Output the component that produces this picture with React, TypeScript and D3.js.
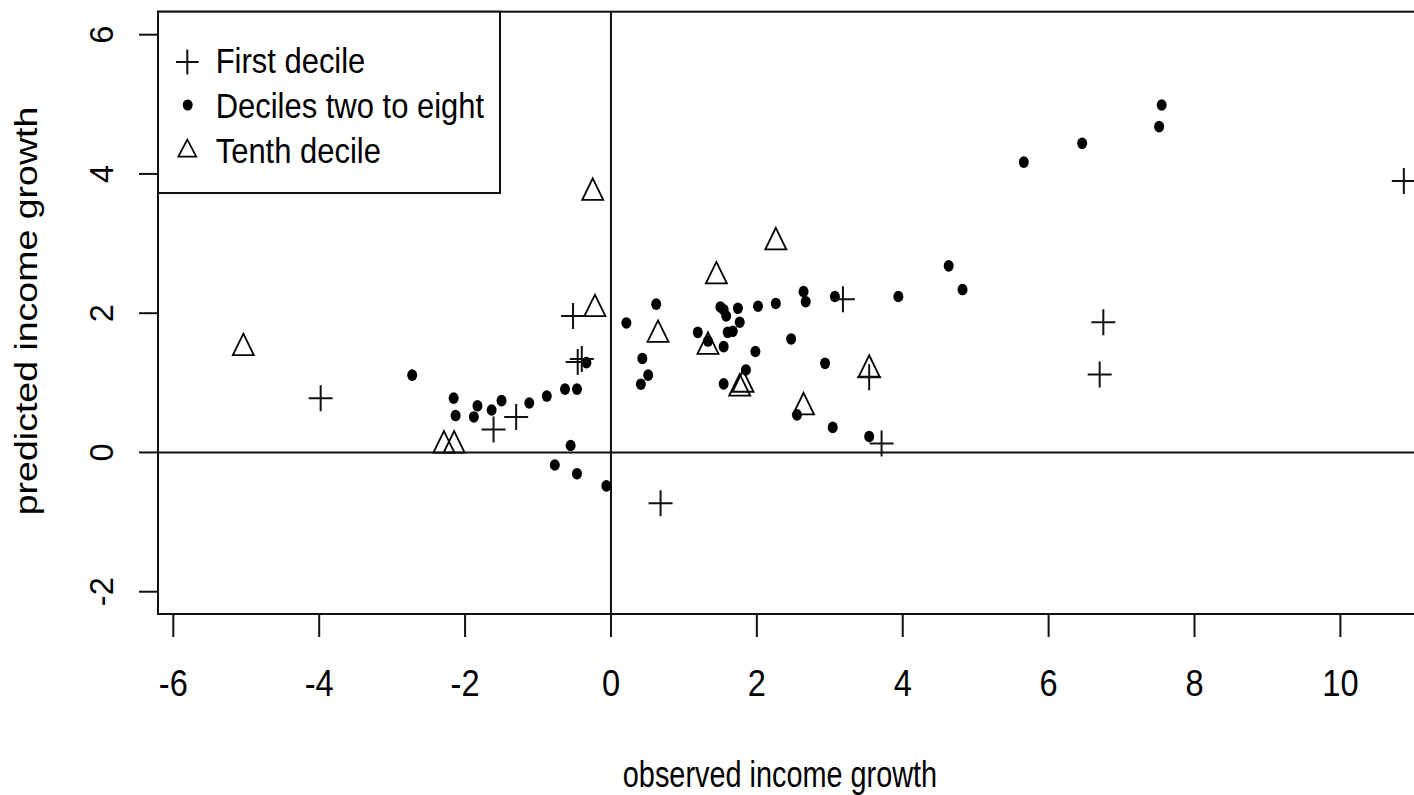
import * as d3 from "d3";
import React from "react";

// first decile (plus)
const firstX = [-3.98, -1.61, -1.30, -0.52, -0.456, -0.40, 0.68, 3.18, 3.54, 3.71, 6.75, 6.70, 10.87];
const firstY = [0.78, 0.33, 0.51, 1.96, 1.30, 1.344, -0.73, 2.20, 1.08, 0.13, 1.87, 1.12, 3.90];

// deciles two to eight (dots)
const midX = [-2.725, -2.157, -2.13, -1.83, -1.88, -1.636, -1.50, -1.12, -0.88, -0.63, -0.466, -0.337, -0.553, -0.77, -0.466, -0.063,
    0.211, 0.62, 0.43, 0.51, 0.41, 1.19, 1.33, 1.50, 1.545, 1.58, 1.74, 1.765, 1.60, 1.67, 1.545, 2.016, 2.26, 1.98, 1.85, 1.545,
    2.64, 2.67, 2.47, 2.935, 2.55, 3.04, 3.54, 3.07, 3.94, 4.63, 4.82, 5.66, 6.46, 7.55, 7.515];
const midY = [1.11, 0.78, 0.53, 0.67, 0.51, 0.61, 0.745, 0.71, 0.81, 0.91, 0.91, 1.29, 0.10, -0.18, -0.305, -0.48,
    1.86, 2.13, 1.35, 1.11, 0.98, 1.725, 1.6, 2.09, 2.05, 1.96, 2.07, 1.87, 1.725, 1.74, 1.52, 2.10, 2.14, 1.45, 1.185, 0.985,
    2.31, 2.165, 1.63, 1.28, 0.54, 0.36, 0.23, 2.24, 2.24, 2.68, 2.34, 4.17, 4.44, 4.99, 4.68];

// tenth decile (triangles)
const tenthX = [-5.04, -2.29, -2.15, -0.22, -0.25, 1.445, 0.645, 1.33, 2.26, 1.765, 1.81, 2.64, 3.54];
const tenthY = [1.50, 0.10, 0.10, 2.06, 3.73, 2.53, 1.69, 1.52, 3.02, 0.92, 0.975, 0.65, 1.19];

const xTicks = [-6, -4, -2, 0, 2, 4, 6, 8, 10];
const yTicks = [-2, 0, 2, 4, 6];
const legendLabels = ["First decile", "Deciles two to eight", "Tenth decile"];

const W = 1414, H = 795;
const plot = {left: 158, right: 1425, top: 11.7, bottom: 614};
const font = "'Liberation Sans', Arial, sans-serif";

const plusPath = (cx: number, cy: number, hw: number, hh: number) =>
    `M${cx - hw},${cy}H${cx + hw}M${cx},${cy - hh}V${cy + hh}`;

const triPath = (cx: number, cy: number, w: number, h: number) =>
    `M${cx},${cy - h * 2 / 3}L${cx + w / 2},${cy + h / 3}L${cx - w / 2},${cy + h / 3}Z`;

const App = () => {
    const x = d3.scaleLinear().domain([-6.21, 11.16]).range([plot.left, plot.right]);
    const y = d3.scaleLinear().domain([-2.32, 6.33]).range([plot.bottom, plot.top]);
    const ink = "#111";

    return (
        <svg width={W} height={H} style={{position: "absolute", left: 0, top: 0, background: "#fff"}}>
            <rect x={0} y={0} width={W} height={H} fill="#fff"/>

            {/* reference lines */}
            <line x1={plot.left} x2={plot.right} y1={y(0)} y2={y(0)} stroke={ink} strokeWidth={2}/>
            <line x1={x(0)} x2={x(0)} y1={plot.top} y2={plot.bottom} stroke={ink} strokeWidth={2}/>

            {/* points */}
            <g fill="#000">
                {midX.map((d, i) => (
                    <ellipse key={"m" + i} cx={x(d)} cy={y(midY[i])} rx={5} ry={5.8}/>
                ))}
            </g>
            <g fill="none" stroke="#000" strokeWidth={1.8}>
                {tenthX.map((d, i) => (
                    <path key={"t" + i} d={triPath(x(d), y(tenthY[i]), 21, 21.5)}/>
                ))}
            </g>
            <g fill="none" stroke="#111" strokeWidth={2}>
                {firstX.map((d, i) => (
                    <path key={"f" + i} d={plusPath(x(d), y(firstY[i]), 12, 13)}/>
                ))}
            </g>

            {/* box */}
            <rect x={plot.left} y={plot.top} width={plot.right - plot.left} height={plot.bottom - plot.top}
                  fill="none" stroke={ink} strokeWidth={2}/>

            {/* x axis */}
            {xTicks.map(t => (
                <g key={"xt" + t}>
                    <line x1={x(t)} x2={x(t)} y1={plot.bottom} y2={plot.bottom + 23} stroke={ink} strokeWidth={2}/>
                    <text transform={`translate(${x(t)},696) scale(0.88,1)`} textAnchor="middle"
                          fontFamily={font} fontSize={37} fill="#000">{t}</text>
                </g>
            ))}
            <text transform="translate(780,787) scale(0.78,1)" textAnchor="middle"
                  fontFamily={font} fontSize={37} fill="#000">observed income growth</text>

            {/* y axis */}
            {yTicks.map(t => (
                <g key={"yt" + t}>
                    <line x1={plot.left - 19} x2={plot.left} y1={y(t)} y2={y(t)} stroke={ink} strokeWidth={2}/>
                    <text transform={`translate(113,${y(t)}) rotate(-90)`} textAnchor="middle"
                          fontFamily={font} fontSize={32.5} fill="#000">{t}</text>
                </g>
            ))}
            <text transform="translate(37,311) rotate(-90) scale(1,0.85)" textAnchor="middle"
                  fontFamily={font} fontSize={37.5} fill="#000">predicted income growth</text>

            {/* legend */}
            <rect x={plot.left} y={plot.top} width={342} height={181.3} fill="#fff" stroke={ink} strokeWidth={2}/>
            <path d={plusPath(187.3, 62, 11.3, 12.5)} fill="none" stroke="#111" strokeWidth={2}/>
            <ellipse cx={187.7} cy={105} rx={5} ry={5.5} fill="#000"/>
            <path d={triPath(187.3, 151, 18, 17)} fill="none" stroke="#000" strokeWidth={1.7}/>
            {legendLabels.map((l, i) => (
                <text key={l} transform={`translate(215.7,${73.3 + i * 45}) scale(0.86,1)`}
                      fontFamily={font} fontSize={36} fill="#000">{l}</text>
            ))}
        </svg>
    );
};

export default App;
